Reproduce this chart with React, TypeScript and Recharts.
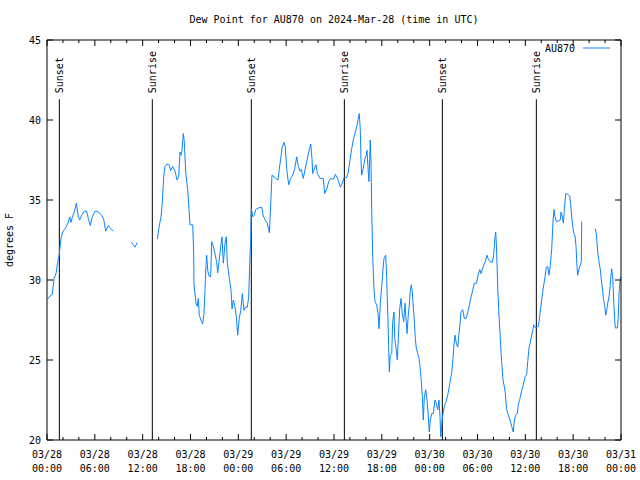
import React from "react";
import { LineChart, Line, XAxis, YAxis, ReferenceLine } from "recharts";

// hours since 03/28 00:00 UTC, dew point in degrees F
const segAHours = [0.06, 0.38, 0.66, 0.88, 1.13, 1.34, 1.51, 1.76, 1.97, 2.38, 2.67, 2.85, 3.01, 3.17, 3.51, 3.68, 3.93, 4.10, 4.35, 4.68, 4.98, 5.18, 5.43, 5.68, 6.02, 6.44, 6.86, 7.11, 7.36, 7.69, 8.03, 8.32];
const segADew = [28.8, 29.0, 29.1, 30.1, 30.4, 31.1, 31.5, 32.6, 33.0, 33.3, 33.6, 33.95, 33.6, 33.9, 34.4, 34.8, 33.95, 33.75, 34.05, 34.3, 34.3, 33.85, 33.4, 33.95, 34.3, 34.25, 34.05, 33.8, 33.05, 33.4, 33.2, 33.05];

const segBHours = [10.57, 11.04, 11.33];
const segBDew = [32.35, 32.05, 32.35];

const segCHours = [
  13.84, 14.05, 14.30, 14.46, 14.64, 14.80, 15.05, 15.30, 15.52, 15.77,
  16.06, 16.31, 16.52, 16.68, 16.81, 16.93, 17.10, 17.22, 17.40, 17.65,
  17.81, 17.94, 18.28, 18.40, 18.44, 18.69, 18.85, 18.98, 19.10, 19.32,
  19.53, 19.69, 19.82, 19.94, 20.03, 20.16, 20.32, 20.53, 20.66, 20.86,
  21.07, 21.29, 21.41, 21.58, 21.79, 21.95, 22.12, 22.33, 22.49, 22.62,
  22.87, 23.08, 23.21, 23.37, 23.58, 23.75, 23.92, 24.12, 24.30, 24.50,
  24.71, 24.87, 25.13, 25.30, 25.46, 25.55,
];
const segCDew = [
  32.55, 33.3, 33.95, 34.8, 36.45, 37.1, 37.25, 37.2, 36.85, 37.1,
  36.8, 36.25, 36.45, 38.0, 37.8, 38.1, 39.15, 38.65, 36.75, 35.6,
  34.4, 33.45, 33.45, 31.65, 29.7, 28.55, 28.35, 28.85, 27.8, 27.5,
  27.25, 27.9, 29.4, 30.9, 31.55, 30.6, 30.25, 30.2, 32.4, 32.1,
  31.65, 31.1, 30.45, 31.15, 32.1, 32.7, 31.05, 32.3, 32.7, 31.05,
  30.1, 29.4, 28.2, 28.75, 28.3, 27.7, 26.55, 27.6, 28.1, 29.15,
  28.1, 28.3, 28.3, 28.95, 31.45, 32.5,
];

const segDHours = [
  25.63, 25.81, 26.01, 26.18, 26.51, 26.93, 27.13, 27.38, 27.63, 27.89,
  28.06, 28.22, 28.47, 28.73, 28.98, 29.14, 29.32, 29.48, 29.73, 29.89,
  30.07, 30.32, 30.57, 30.82, 31.07, 31.32, 31.52, 31.74, 31.90, 32.15,
  32.33, 32.58, 32.83, 33.08, 33.24, 33.33, 33.53, 33.74, 33.91, 34.25,
  34.66, 34.83, 35.09, 35.34, 35.59, 35.84, 36.00, 36.16, 36.46, 36.79,
  37.04, 37.26, 37.59, 37.79, 38.01, 38.22, 38.42, 38.63, 38.85, 39.05,
  39.17, 39.30, 39.39, 39.47, 39.64, 39.89, 40.05, 40.14, 40.30, 40.39,
  40.48, 40.55, 40.64, 40.73, 40.86, 41.02, 41.14, 41.36, 41.52, 41.65,
  41.81, 41.99, 42.15, 42.27, 42.49, 42.61, 42.77, 42.94, 43.06, 43.24,
  43.36, 43.53, 43.62, 43.78, 43.94, 44.07, 44.24, 44.41, 44.57, 44.74,
  44.91, 45.03, 45.16, 45.32, 45.45, 45.57, 45.70, 45.82, 45.91, 46.07,
  46.20, 46.32, 46.50, 46.66, 46.79, 46.95, 47.08, 47.20, 47.33, 47.50,
  47.63, 47.79, 47.95, 48.08, 48.26, 48.46, 48.67, 48.83, 49.01, 49.17,
  49.30, 49.39,
];
const segDDew = [
  34.5, 33.95, 34.05, 34.4, 34.5, 34.55, 34.0, 33.75, 33.55, 32.95,
  34.7, 36.55, 36.45, 36.35, 36.25, 36.95, 37.6, 38.25, 38.6, 38.35,
  36.9, 35.95, 36.35, 36.55, 36.95, 37.7, 37.1, 36.8, 36.9, 36.35,
  36.8, 37.4, 38.0, 38.5, 37.6, 36.65, 36.95, 37.2, 36.65, 36.35,
  36.35, 35.4, 35.7, 36.15, 36.35, 36.3, 36.35, 36.6, 36.35, 35.8,
  36.05, 36.4, 36.4, 36.75, 37.5, 38.2, 38.75, 39.15, 39.6, 40.1,
  40.4, 39.4, 37.5, 36.55, 36.9, 37.6, 37.8, 38.1, 36.75, 36.15,
  37.6, 38.75, 37.3, 34.4, 31.35, 29.4, 28.65, 28.45, 27.9, 26.95,
  28.55, 29.6, 30.7, 31.35, 31.55, 30.1, 27.5, 24.25, 25.3, 25.4,
  27.4, 28.0, 26.35, 25.75, 25.0, 26.35, 28.2, 28.85, 27.9, 27.4,
  28.55, 27.6, 26.65, 27.8, 28.45, 29.4, 29.7, 29.25, 28.55, 27.5,
  26.35, 25.75, 25.4, 25.1, 24.6, 23.65, 22.7, 21.25, 22.7, 23.15,
  22.7, 21.75, 20.5, 21.25, 21.65, 21.65, 22.5, 22.3, 21.9, 22.5,
  21.45, 20.2,
];

const segEHours = [
  49.51, 49.64, 49.84, 50.05, 50.26, 50.43, 50.64, 50.77, 50.93, 51.05,
  51.18, 51.34, 51.52, 51.68, 51.81, 51.93, 52.14, 52.35, 52.56, 52.85,
  53.10, 53.35, 53.60, 53.88, 54.07, 54.29, 54.44, 54.69, 54.94, 55.19,
  55.35, 55.57, 55.86, 56.03, 56.16, 56.28, 56.36, 56.45, 56.54, 56.66,
  56.82, 56.95, 57.07, 57.20, 57.36, 57.49, 57.66, 57.86, 58.08, 58.29,
  58.49, 58.62, 58.79, 58.99, 59.12, 59.33, 59.55, 59.75, 59.96, 60.17,
  60.30, 60.46, 60.68, 60.88, 61.05, 61.30, 61.63, 61.80, 62.05, 62.25,
  62.47, 62.63, 62.81, 62.97, 63.13, 63.31, 63.47, 63.60, 63.72, 63.89,
  64.14, 64.39, 64.47, 64.64, 64.77, 64.89, 65.07, 65.32, 65.57, 65.69,
  65.82, 65.94, 66.07, 66.23, 66.36, 66.48, 66.57, 66.73, 66.90, 67.02,
  67.07,
];
const segEDew = [
  20.95, 21.55, 22.1, 22.4, 22.8, 23.25, 23.9, 24.2, 25.1, 25.95,
  26.55, 26.05, 25.8, 26.65, 27.3, 28.0, 28.15, 27.6, 27.6, 28.1,
  28.75, 29.25, 29.8, 29.8, 30.3, 30.65, 30.4, 30.8, 31.1, 31.55,
  31.3, 31.15, 31.1, 31.55, 32.5, 33.0, 32.3, 30.95, 29.5, 28.1,
  26.75, 25.5, 24.6, 23.75, 23.35, 22.9, 21.9, 21.55, 21.25, 20.85,
  20.5, 21.25, 21.55, 21.65, 22.2, 22.6, 23.1, 23.45, 23.95, 24.1,
  24.9, 25.75, 26.25, 26.75, 27.2, 27.0, 27.1, 27.7, 28.75, 29.5,
  30.2, 30.8, 30.85, 30.3, 30.9, 31.95, 33.65, 34.4, 33.95, 33.65,
  33.7, 33.75, 34.25, 33.95, 33.55, 34.4, 35.4, 35.35, 35.25, 34.7,
  33.95, 33.35, 32.95, 32.75, 32.1, 30.85, 30.3, 30.7, 30.95, 31.15,
  33.65,
];

const segFHours = [68.78, 68.90, 69.08, 69.24, 69.41, 69.53, 69.66, 69.78, 69.96, 70.08, 70.21, 70.33, 70.49, 70.62, 70.74, 70.83, 70.96, 71.08, 71.21, 71.29, 71.54, 71.66, 71.75, 71.87, 71.96];
const segFDew = [33.2, 32.9, 31.75, 31.15, 30.65, 30.0, 29.5, 28.85, 28.35, 27.8, 28.1, 28.55, 28.95, 29.5, 30.25, 30.7, 30.2, 28.75, 27.5, 27.0, 27.0, 27.7, 29.15, 29.9, 30.2];

// missing readings
const gapHours = [9.5, 12.5, 68.0];

const sunsetHours = [1.55, 25.63, 49.59];
const sunriseHours = [13.21, 37.3, 61.38];

const majorTickHours = [0, 6, 12, 18, 24, 30, 36, 42, 48, 54, 60, 66, 72];
const tickDates = ["03/28", "03/28", "03/28", "03/28", "03/29", "03/29", "03/29", "03/29", "03/30", "03/30", "03/30", "03/30", "03/31"];
const tickTimes = ["00:00", "06:00", "12:00", "18:00", "00:00", "06:00", "12:00", "18:00", "00:00", "06:00", "12:00", "18:00", "00:00"];
const yTicks = [20, 25, 30, 35, 40, 45];

const FONT = "'DejaVu Sans Mono', 'Liberation Mono', monospace";
const LINE_COLOR = "#0a84ff";

const seg = (h: number[], v: number[]) => h.map((t, i) => ({ t, v: v[i] }));
const data = [
  ...seg(segAHours, segADew),
  { t: gapHours[0], v: null },
  ...seg(segBHours, segBDew),
  { t: gapHours[1], v: null },
  ...seg(segCHours, segCDew),
  ...seg(segDHours, segDDew),
  ...seg(segEHours, segEDew),
  { t: gapHours[2], v: null },
  ...seg(segFHours, segFDew),
];

// minor ticks every 2 hours
const allTicks = Array.from({ length: 37 }, (_, i) => i * 2);

function BottomTick(props: any) {
  const { x, y, payload } = props;
  const idx = majorTickHours.indexOf(payload.value);
  const major = idx >= 0;
  return (
    <g>
      <line x1={x} y1={y} x2={x} y2={y - (major ? 6 : 3)} stroke="#000" />
      {major && (
        <>
          <text x={x} y={y + 18} textAnchor="middle" fontFamily={FONT} fontSize={10} fill="#000">{tickDates[idx]}</text>
          <text x={x} y={y + 32} textAnchor="middle" fontFamily={FONT} fontSize={10} fill="#000">{tickTimes[idx]}</text>
        </>
      )}
    </g>
  );
}

function TopTick(props: any) {
  const { x, y, payload } = props;
  const major = majorTickHours.includes(payload.value);
  return <line x1={x} y1={y} x2={x} y2={y + (major ? 6 : 3)} stroke="#000" />;
}

function LeftTick(props: any) {
  const { x, y, payload } = props;
  return (
    <g>
      <line x1={x} y1={y} x2={x + 6} y2={y} stroke="#000" />
      <text x={x - 6} y={y + 4} textAnchor="end" fontFamily={FONT} fontSize={10} fill="#000">{payload.value}</text>
    </g>
  );
}

function RightTick(props: any) {
  const { x, y } = props;
  return <line x1={x} y1={y} x2={x - 6} y2={y} stroke="#000" />;
}

const eventLabel = (text: string) => (props: any) => {
  const vb = props.viewBox || {};
  const x = vb.x + 4;
  const y = vb.y - 6;
  return (
    <text x={x} y={y} transform={`rotate(-90 ${x} ${y})`} fontFamily={FONT} fontSize={10} fill="#000">
      {text}
    </text>
  );
};

const titleLabel = (props: any) => {
  const vb = props.viewBox || {};
  return (
    <text x={vb.x + vb.width / 2} y={23} textAnchor="middle" fontFamily={FONT} fontSize={10} fill="#000">
      Dew Point for AU870 on 2024-Mar-28 (time in UTC)
    </text>
  );
};

const yTitleLabel = (props: any) => {
  const vb = props.viewBox || {};
  const x = 13;
  const y = vb.y + vb.height / 2;
  return (
    <text x={x} y={y} transform={`rotate(-90 ${x} ${y})`} textAnchor="middle" fontFamily={FONT} fontSize={10} fill="#000">
      degrees F
    </text>
  );
};

const legendLabel = (props: any) => {
  const vb = props.viewBox || {};
  return (
    <g>
      <text x={vb.x - 46} y={vb.y + 12} textAnchor="end" fontFamily={FONT} fontSize={10} fill="#000">AU870</text>
      <line x1={vb.x - 38} x2={vb.x - 11} y1={vb.y + 8} y2={vb.y + 8} stroke={LINE_COLOR} />
    </g>
  );
};

export default function App() {
  return (
    <div style={{ position: "absolute", left: 0, top: 0, width: 640, height: 480, background: "#fff" }}>
      <LineChart width={640} height={480} data={data} margin={{ top: 39, right: 18, bottom: 39, left: 46 }}>
        <XAxis
          xAxisId="bottom"
          dataKey="t"
          type="number"
          domain={[0, 72]}
          allowDataOverflow
          ticks={allTicks}
          interval={0}
          height={1}
          tickSize={0}
          tickMargin={0}
          tickLine={false}
          axisLine={{ stroke: "#000" }}
          tick={<BottomTick />}
        />
        <XAxis
          xAxisId="top"
          orientation="top"
          dataKey="t"
          type="number"
          domain={[0, 72]}
          allowDataOverflow
          ticks={allTicks}
          interval={0}
          height={1}
          tickSize={0}
          tickMargin={0}
          tickLine={false}
          axisLine={{ stroke: "#000" }}
          tick={<TopTick />}
          label={titleLabel}
        />
        <YAxis
          yAxisId="left"
          type="number"
          domain={[20, 45]}
          allowDataOverflow
          ticks={yTicks}
          interval={0}
          width={1}
          tickSize={0}
          tickMargin={0}
          tickLine={false}
          axisLine={{ stroke: "#000" }}
          tick={<LeftTick />}
          label={yTitleLabel}
        />
        <YAxis
          yAxisId="right"
          orientation="right"
          type="number"
          domain={[20, 45]}
          allowDataOverflow
          ticks={yTicks}
          interval={0}
          width={1}
          tickSize={0}
          tickMargin={0}
          tickLine={false}
          axisLine={{ stroke: "#000" }}
          tick={<RightTick />}
          label={legendLabel}
        />
        {sunsetHours.map((t) => (
          <ReferenceLine
            key={`ss${t}`}
            xAxisId="bottom"
            yAxisId="left"
            segment={[{ x: t, y: 20 }, { x: t, y: 41.3 }]}
            stroke="#000"
            label={eventLabel("Sunset")}
          />
        ))}
        {sunriseHours.map((t) => (
          <ReferenceLine
            key={`sr${t}`}
            xAxisId="bottom"
            yAxisId="left"
            segment={[{ x: t, y: 20 }, { x: t, y: 41.3 }]}
            stroke="#000"
            label={eventLabel("Sunrise")}
          />
        ))}
        <Line
          xAxisId="bottom"
          yAxisId="left"
          dataKey="v"
          type="linear"
          stroke={LINE_COLOR}
          strokeWidth={1}
          dot={false}
          activeDot={false}
          connectNulls={false}
          isAnimationActive={false}
        />
      </LineChart>
    </div>
  );
}
